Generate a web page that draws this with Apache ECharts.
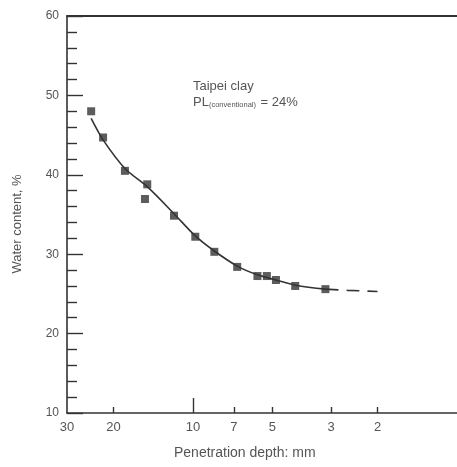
<!DOCTYPE html>
<html>
<head>
<meta charset="utf-8">
<script src="https://cdn.jsdelivr.net/npm/echarts@6/dist/echarts.min.js"></script>
<style>
  html, body { margin: 0; padding: 0; background: #ffffff; }
  #chart { width: 457px; height: 467px; }
</style>
</head>
<body>
<div id="chart"></div>
<script>
// Fall-cone test results: measured points
const depthPts = [24.3, 21.9, 18.1, 14.9, 15.2, 11.8, 9.8, 8.3, 6.8, 5.7, 5.25, 4.85, 4.1, 3.15];
const waterPts = [48.0, 44.7, 40.5, 38.8, 36.95, 34.85, 32.2, 30.3, 28.4, 27.25, 27.25, 26.75, 26.0, 25.6];

// Fitted curve (solid over the data range, dashed extrapolation)
const fitDepth = [24.3, 21.9, 18.1, 14.9, 11.8, 9.8, 8.3, 6.8, 5.7, 4.85, 4.1, 3.15];
const fitWater = [47.1, 44.4, 40.8, 38.5, 35.1, 32.3, 30.4, 28.5, 27.4, 26.75, 26.1, 25.6];
const extDepth = [3.15, 2.6, 2.0];
const extWater = [25.6, 25.45, 25.3];

// Axis ticks and labels
const xLabelValues = [30, 20, 10, 7, 5, 3, 2];
const xShortTicks = [20, 7, 5, 3, 2];
const xLongTicks = [10];

const ink = '#333333';
const textInk = '#555555';
const font = 'Liberation Sans, Arial, sans-serif';

const zip = (a, b) => a.map((v, i) => [v, b[i]]);

const chart = echarts.init(document.getElementById('chart'), null, { renderer: 'canvas' });

const logX = { type: 'log', logBase: 10, min: 1, max: 30, inverse: true, splitLine: { show: false } };

chart.setOption({
  backgroundColor: '#ffffff',
  animation: false,
  grid: { left: 67, top: 16, bottom: 54, right: -1, show: false },
  xAxis: [
    Object.assign({}, logX, {
      position: 'bottom',
      axisLine: { show: true, onZero: false, lineStyle: { color: ink, width: 1.6 } },
      axisTick: { show: true, inside: true, length: 6, customValues: xShortTicks, lineStyle: { color: ink, width: 1.4 } },
      axisLabel: { show: true, customValues: xLabelValues, margin: 8, color: textInk, fontFamily: font, fontSize: 13 },
      minorTick: { show: false }
    }),
    Object.assign({}, logX, {
      position: 'bottom',
      axisLine: { show: false },
      axisTick: { show: true, inside: true, length: 15, customValues: xLongTicks, lineStyle: { color: ink, width: 1.4 } },
      axisLabel: { show: false }
    }),
    Object.assign({}, logX, {
      position: 'top',
      axisLine: { show: true, onZero: false, lineStyle: { color: ink, width: 1.8 } },
      axisTick: { show: false },
      axisLabel: { show: false }
    })
  ],
  yAxis: {
    type: 'value', min: 10, max: 60, interval: 10,
    axisLine: { show: true, onZero: false, lineStyle: { color: ink, width: 1.6 } },
    axisTick: { show: true, inside: true, length: 16, lineStyle: { color: ink, width: 1.4 } },
    minorTick: { show: true, splitNumber: 5, length: 10, lineStyle: { color: ink, width: 1.4 } },
    axisLabel: { margin: 8, color: textInk, fontFamily: font, fontSize: 12 },
    splitLine: { show: false }
  },
  graphic: [
    {
      type: 'text', left: 193, top: 80,
      style: { text: 'Taipei clay', fill: textInk, font: '13px ' + font }
    },
    {
      type: 'text', left: 193, top: 96,
      style: {
        text: '{m|PL}{s|(conventional)}{m| = 24%}',
        fill: textInk,
        rich: {
          m: { fontSize: 13, fontFamily: font, fill: textInk, lineHeight: 17, verticalAlign: 'bottom' },
          s: { fontSize: 7.5, fontFamily: font, fill: textInk, lineHeight: 17, verticalAlign: 'bottom', padding: [0, 1, 0, 0] }
        }
      }
    },
    {
      type: 'text', x: 17, y: 224, rotation: Math.PI / 2,
      style: { text: 'Water content, %', fill: textInk, font: '13px ' + font, align: 'center', verticalAlign: 'middle' }
    },
    {
      type: 'text', x: 174, y: 453,
      style: { text: 'Penetration depth: mm', fill: textInk, font: '14px ' + font, align: 'left', verticalAlign: 'middle' }
    }
  ],
  series: [
    {
      name: 'fit', type: 'line', smooth: 0.3, showSymbol: false, silent: true,
      data: zip(fitDepth, fitWater),
      lineStyle: { color: ink, width: 1.6 }, z: 2
    },
    {
      name: 'extrapolation', type: 'line', smooth: 0.3, showSymbol: false, silent: true,
      data: zip(extDepth, extWater),
      lineStyle: { color: ink, width: 1.6, type: [13, 8] }, z: 2
    },
    {
      name: 'measured', type: 'scatter', symbol: 'rect', symbolSize: 8,
      data: zip(depthPts, waterPts),
      itemStyle: { color: ink }, z: 3
    }
  ]
});
</script>
</body>
</html>
